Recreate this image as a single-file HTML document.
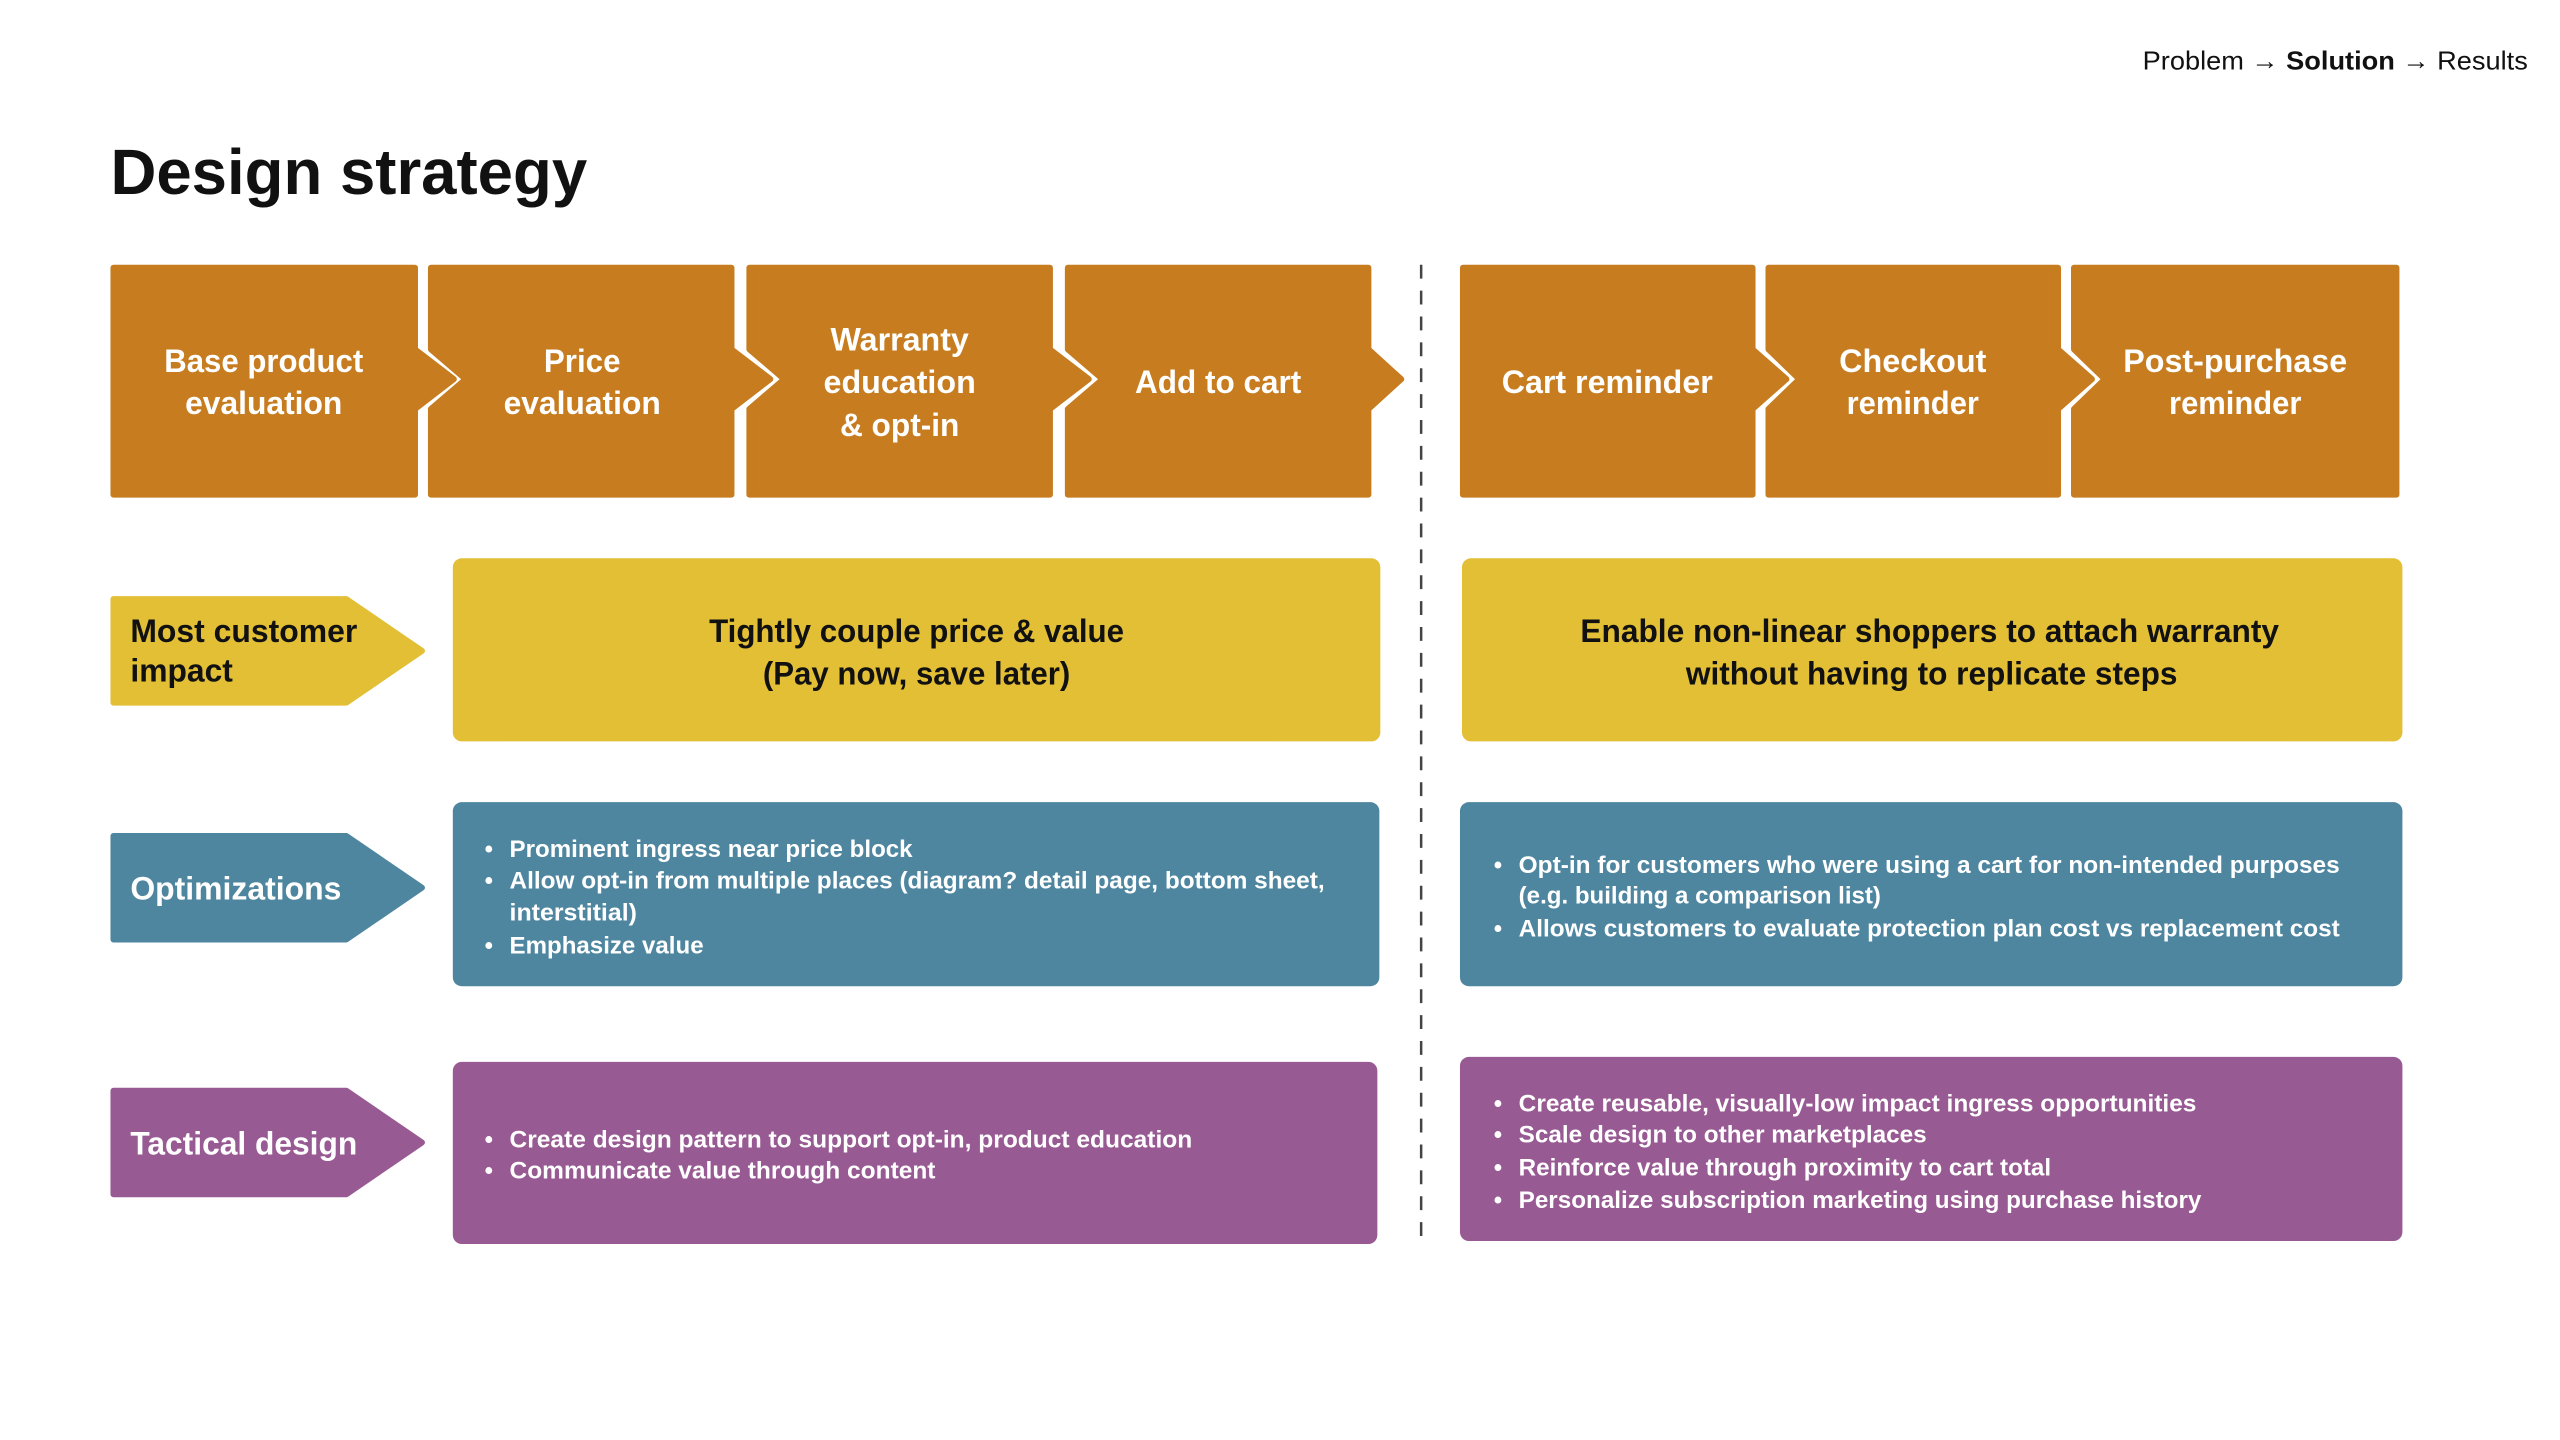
<!DOCTYPE html>
<html><head><meta charset="utf-8"><style>
html,body{margin:0;padding:0;background:#fff;width:2560px;height:1440px;overflow:hidden}
svg{display:block}
text{font-family:"Liberation Sans",Arial,sans-serif;font-weight:bold}
.w{fill:#fff}
.k{fill:#111}
.b{font-size:24px}
.t{font-size:33px}
</style></head><body>
<svg width="2560" height="1440" viewBox="0 0 2560 1440" xmlns="http://www.w3.org/2000/svg">
<g transform="scale(0.9952)">
<!-- nav -->
<text x="2540" y="70" text-anchor="end" style="font-size:26px;font-weight:normal" fill="#111" textLength="387" lengthAdjust="spacingAndGlyphs">Problem → <tspan font-weight="bold">Solution</tspan> → Results</text>
<!-- title -->
<text x="111" y="195" style="font-size:64px" fill="#111" textLength="479" lengthAdjust="spacingAndGlyphs">Design strategy</text>

<!-- top chevrons -->
<g fill="#C67C1F" stroke="#C67C1F" stroke-width="6" stroke-linejoin="round">
<polygon points="114,269 417,269 417,351 456,381 417,411 417,497 114,497"/>
<polygon points="433,269 735,269 735,351 774,381 735,411 735,497 433,497 433,411 468,381 433,351"/>
<polygon points="753,269 1055,269 1055,351 1094,381 1055,411 1055,497 753,497 753,411 788,381 753,351"/>
<polygon points="1073,269 1375,269 1375,351 1408,381 1375,411 1375,497 1073,497 1073,411 1108,381 1073,351"/>
<polygon points="1470,269 1761,269 1761,351 1795,381 1761,411 1761,497 1470,497"/>
<polygon points="1777,269 2068,269 2068,351 2102,381 2068,411 2068,497 1777,497 1777,411 1808,381 1777,351"/>
<polygon points="2084,269 2408,269 2408,497 2084,497 2084,411 2115,381 2084,351"/>
</g>
<g class="w t">
<text x="265" y="374" text-anchor="middle" textLength="200" lengthAdjust="spacingAndGlyphs">Base product</text>
<text x="265" y="416" text-anchor="middle" textLength="158" lengthAdjust="spacingAndGlyphs">evaluation</text>
<text x="585" y="374" text-anchor="middle" textLength="77" lengthAdjust="spacingAndGlyphs">Price</text>
<text x="585" y="416" text-anchor="middle" textLength="158" lengthAdjust="spacingAndGlyphs">evaluation</text>
<text x="904" y="352" text-anchor="middle" textLength="139" lengthAdjust="spacingAndGlyphs">Warranty</text>
<text x="904" y="395" text-anchor="middle" textLength="153" lengthAdjust="spacingAndGlyphs">education</text>
<text x="904" y="438" text-anchor="middle" textLength="120" lengthAdjust="spacingAndGlyphs">&amp; opt-in</text>
<text x="1224" y="395" text-anchor="middle" textLength="167" lengthAdjust="spacingAndGlyphs">Add to cart</text>
<text x="1615" y="395" text-anchor="middle" textLength="212" lengthAdjust="spacingAndGlyphs">Cart reminder</text>
<text x="1922" y="374" text-anchor="middle" textLength="148" lengthAdjust="spacingAndGlyphs">Checkout</text>
<text x="1922" y="416" text-anchor="middle" textLength="133" lengthAdjust="spacingAndGlyphs">reminder</text>
<text x="2246" y="374" text-anchor="middle" textLength="225" lengthAdjust="spacingAndGlyphs">Post-purchase</text>
<text x="2246" y="416" text-anchor="middle" textLength="133" lengthAdjust="spacingAndGlyphs">reminder</text>
</g>

<!-- divider -->
<line x1="1428" y1="266" x2="1428" y2="1252" stroke="#444" stroke-width="2.5" stroke-dasharray="14,12"/>

<!-- row 2 -->
<g fill="#E3BF35" stroke="#E3BF35" stroke-width="6" stroke-linejoin="round">
<polygon points="114,602 348,602 424,654 348,706 114,706"/>
</g>
<rect x="455" y="561" width="932" height="184" rx="9" fill="#E3BF35"/>
<rect x="1469" y="561" width="945" height="184" rx="9" fill="#E3BF35"/>
<g class="k t">
<text x="131" y="645" textLength="228" lengthAdjust="spacingAndGlyphs">Most customer</text>
<text x="131" y="685" textLength="103" lengthAdjust="spacingAndGlyphs">impact</text>
<text x="921" y="645" text-anchor="middle" textLength="417" lengthAdjust="spacingAndGlyphs">Tightly couple price &amp; value</text>
<text x="921" y="688" text-anchor="middle" textLength="309" lengthAdjust="spacingAndGlyphs">(Pay now, save later)</text>
<text x="1939" y="645" text-anchor="middle" textLength="702" lengthAdjust="spacingAndGlyphs">Enable non-linear shoppers to attach warranty</text>
<text x="1941" y="688" text-anchor="middle" textLength="494" lengthAdjust="spacingAndGlyphs">without having to replicate steps</text>
</g>

<!-- row 3 -->
<g fill="#4E86A0" stroke="#4E86A0" stroke-width="6" stroke-linejoin="round">
<polygon points="114,840 348,840 424,892 348,944 114,944"/>
</g>
<rect x="455" y="806" width="931" height="185" rx="9" fill="#4E86A0"/>
<rect x="1467" y="806" width="947" height="185" rx="9" fill="#4E86A0"/>
<g class="w">
<text class="t" x="131" y="904" textLength="212" lengthAdjust="spacingAndGlyphs">Optimizations</text>
<g class="b">
<text x="487" y="861">•</text><text x="512" y="861" textLength="405" lengthAdjust="spacingAndGlyphs">Prominent ingress near price block</text>
<text x="487" y="893">•</text><text x="512" y="893" textLength="819" lengthAdjust="spacingAndGlyphs">Allow opt-in from multiple places (diagram? detail page, bottom sheet,</text>
<text x="512" y="925" textLength="128" lengthAdjust="spacingAndGlyphs">interstitial)</text>
<text x="487" y="958">•</text><text x="512" y="958" textLength="195" lengthAdjust="spacingAndGlyphs">Emphasize value</text>
<text x="1501" y="877">•</text><text x="1526" y="877" textLength="825" lengthAdjust="spacingAndGlyphs">Opt-in for customers who were using a cart for non-intended purposes</text>
<text x="1526" y="908" textLength="364" lengthAdjust="spacingAndGlyphs">(e.g. building a comparison list)</text>
<text x="1501" y="941">•</text><text x="1526" y="941" textLength="825" lengthAdjust="spacingAndGlyphs">Allows customers to evaluate protection plan cost vs replacement cost</text>
</g></g>

<!-- row 4 -->
<g fill="#985A93" stroke="#985A93" stroke-width="6" stroke-linejoin="round">
<polygon points="114,1096 348,1096 424,1148 348,1200 114,1200"/>
</g>
<rect x="455" y="1067" width="929" height="183" rx="9" fill="#985A93"/>
<rect x="1467" y="1062" width="947" height="185" rx="9" fill="#985A93"/>
<g class="w">
<text class="t" x="131" y="1160" textLength="228" lengthAdjust="spacingAndGlyphs">Tactical design</text>
<g class="b">
<text x="487" y="1153">•</text><text x="512" y="1153" textLength="686" lengthAdjust="spacingAndGlyphs">Create design pattern to support opt-in, product education</text>
<text x="487" y="1184">•</text><text x="512" y="1184" textLength="428" lengthAdjust="spacingAndGlyphs">Communicate value through content</text>
<text x="1501" y="1117">•</text><text x="1526" y="1117" textLength="681" lengthAdjust="spacingAndGlyphs">Create reusable, visually-low impact ingress opportunities</text>
<text x="1501" y="1148">•</text><text x="1526" y="1148" textLength="410" lengthAdjust="spacingAndGlyphs">Scale design to other marketplaces</text>
<text x="1501" y="1181">•</text><text x="1526" y="1181" textLength="535" lengthAdjust="spacingAndGlyphs">Reinforce value through proximity to cart total</text>
<text x="1501" y="1214">•</text><text x="1526" y="1214" textLength="686" lengthAdjust="spacingAndGlyphs">Personalize subscription marketing using purchase history</text>
</g></g>
</g>
</svg>
</body></html>
